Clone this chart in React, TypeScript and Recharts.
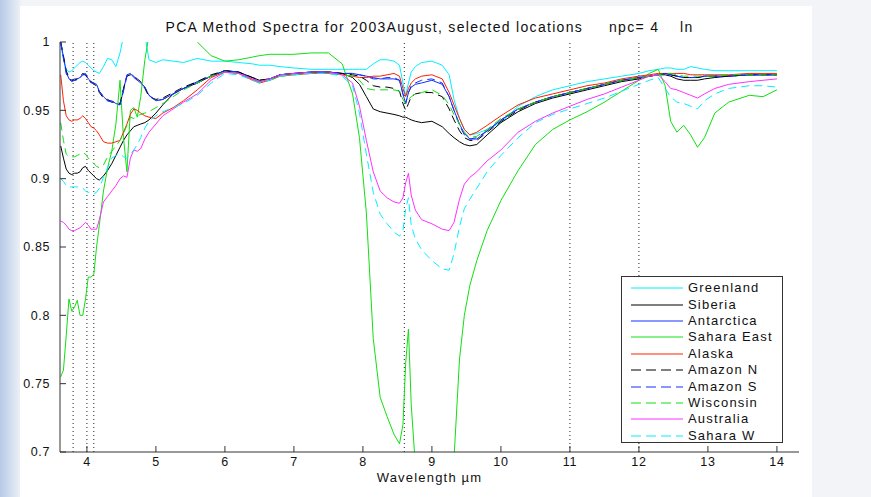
import { LineChart, Line, XAxis, YAxis, ReferenceLine, Legend } from 'recharts'

// wavelength grid (µm)
const wavelength = [
    3.62, 3.66, 3.70, 3.74, 3.78, 3.82, 3.86, 3.90, 3.94, 3.98,
    4.02, 4.06, 4.10, 4.14, 4.18, 4.24, 4.30, 4.36, 4.42, 4.48,
    4.53, 4.58, 4.63, 4.68, 4.73, 4.78, 4.84, 4.90, 5.00, 5.10,
    5.25, 5.40, 5.60, 5.80, 6.00, 6.20, 6.40, 6.50, 6.65, 6.80,
    7.00, 7.25, 7.50, 7.70, 7.85, 7.95, 8.05, 8.15, 8.25, 8.35,
    8.45, 8.53, 8.58, 8.62, 8.66, 8.70, 8.76, 8.85, 9.00, 9.15,
    9.25, 9.32, 9.40, 9.47, 9.55, 9.65, 9.80, 10.0, 10.25, 10.5,
    10.75, 11.0, 11.25, 11.5, 11.75, 12.0, 12.15, 12.28, 12.38, 12.46,
    12.55, 12.65, 12.75, 12.85, 12.95, 13.1, 13.3, 13.6, 13.8, 14.0,
]

const greenland = [
    0.998, 0.988, 0.980, 0.978, 0.979, 0.981, 0.983, 0.985, 0.986, 0.985,
    0.983, 0.981, 0.979, 0.978, 0.977, 0.982, 0.988, 0.987, 0.982, 0.992,
    1.004, 1.01, 1.01, 1.01, 1.01, 1.01, 1.005, 0.987, 0.985, 0.987,
    0.986, 0.985, 0.988, 0.986, 0.986, 0.985, 0.984, 0.983, 0.983, 0.982,
    0.981, 0.980, 0.980, 0.980, 0.980, 0.980, 0.980, 0.984, 0.987, 0.987,
    0.986, 0.983, 0.970, 0.961, 0.970, 0.978, 0.982, 0.985, 0.986, 0.983,
    0.976, 0.958, 0.944, 0.936, 0.932, 0.933, 0.936, 0.941, 0.953, 0.960,
    0.965, 0.968, 0.971, 0.973, 0.975, 0.977, 0.979, 0.980, 0.981, 0.981,
    0.980, 0.980, 0.982, 0.981, 0.980, 0.979, 0.979, 0.979, 0.979, 0.979,
]

const siberia = [
    0.924, 0.915, 0.907, 0.904, 0.903, 0.904, 0.904, 0.905, 0.908, 0.909,
    0.906, 0.904, 0.902, 0.900, 0.899, 0.902, 0.906, 0.911, 0.917, 0.923,
    0.928, 0.932, 0.935, 0.938, 0.939, 0.940, 0.941, 0.943, 0.948, 0.954,
    0.962, 0.966, 0.970, 0.975, 0.979, 0.978, 0.974, 0.972, 0.973, 0.976,
    0.977, 0.978, 0.978, 0.977, 0.974, 0.969, 0.960, 0.951, 0.949, 0.948,
    0.947, 0.946, 0.945, 0.945, 0.944, 0.943, 0.942, 0.941, 0.942, 0.938,
    0.933, 0.930, 0.927, 0.925, 0.924, 0.925, 0.932, 0.941, 0.949, 0.955,
    0.959, 0.962, 0.965, 0.968, 0.971, 0.973, 0.975, 0.976, 0.976, 0.975,
    0.973, 0.972, 0.972, 0.972, 0.973, 0.974, 0.975, 0.976, 0.976, 0.976,
]

const antarctica = [
    1.0, 0.989, 0.978, 0.973, 0.972, 0.973, 0.973, 0.974, 0.976, 0.977,
    0.973, 0.971, 0.970, 0.969, 0.964, 0.960, 0.957, 0.957, 0.955, 0.954,
    0.965, 0.976, 0.977, 0.974, 0.972, 0.970, 0.967, 0.961, 0.957, 0.958,
    0.962, 0.966, 0.971, 0.975, 0.979, 0.978, 0.973, 0.971, 0.973, 0.976,
    0.977, 0.978, 0.978, 0.977, 0.977, 0.976, 0.975, 0.974, 0.973, 0.973,
    0.973, 0.972, 0.962, 0.955, 0.963, 0.967, 0.969, 0.970, 0.972, 0.969,
    0.960, 0.950, 0.940, 0.933, 0.929, 0.929, 0.935, 0.943, 0.951, 0.956,
    0.960, 0.963, 0.966, 0.969, 0.972, 0.974, 0.975, 0.976, 0.977, 0.976,
    0.975, 0.974, 0.974, 0.974, 0.975, 0.975, 0.975, 0.976, 0.976, 0.976,
]

const saharaEast = [
    0.755, 0.760, 0.785, 0.812, 0.803, 0.806, 0.811, 0.800, 0.800, 0.812,
    0.828, 0.828, 0.830, 0.850, 0.866, 0.891, 0.908, 0.920, 0.940, 0.972,
    0.930, 0.905, 0.950, 0.952, 0.945, 0.960, 0.987, 1.005, 1.02, 1.02,
    1.02, 1.02, 1.0, 0.990, 0.986, 0.987, 0.989, 0.990, 0.991, 0.991,
    0.991, 0.992, 0.992, 0.984, 0.962, 0.930, 0.875, 0.783, 0.740, 0.726,
    0.713, 0.706, 0.720, 0.765, 0.790, 0.735, 0.690, 0.650, 0.620, 0.620,
    0.650, 0.695, 0.768, 0.800, 0.822, 0.840, 0.862, 0.884, 0.906, 0.925,
    0.936, 0.943, 0.949, 0.956, 0.964, 0.972, 0.977, 0.980, 0.968, 0.942,
    0.934, 0.939, 0.932, 0.923, 0.930, 0.948, 0.956, 0.961, 0.960, 0.965,
]

const alaska = [
    0.976, 0.957, 0.946, 0.943, 0.942, 0.943, 0.943, 0.944, 0.946, 0.944,
    0.941, 0.938, 0.937, 0.935, 0.932, 0.927, 0.926, 0.926, 0.927, 0.928,
    0.934, 0.940, 0.947, 0.951, 0.950, 0.948, 0.946, 0.945, 0.944, 0.948,
    0.952, 0.957, 0.965, 0.974, 0.978, 0.977, 0.972, 0.970, 0.972, 0.975,
    0.976, 0.977, 0.977, 0.976, 0.975, 0.974, 0.974, 0.975, 0.975, 0.976,
    0.977, 0.975, 0.966, 0.960, 0.966, 0.970, 0.973, 0.975, 0.976, 0.973,
    0.963, 0.954, 0.944, 0.936, 0.932, 0.934, 0.939, 0.946, 0.954, 0.959,
    0.962, 0.965, 0.968, 0.970, 0.973, 0.975, 0.976, 0.977, 0.977, 0.977,
    0.977, 0.977, 0.976, 0.976, 0.976, 0.976, 0.976, 0.977, 0.977, 0.977,
]

const amazonN = [
    1.0, 0.990, 0.979, 0.974, 0.972, 0.972, 0.973, 0.975, 0.977, 0.976,
    0.972, 0.971, 0.969, 0.968, 0.963, 0.959, 0.958, 0.956, 0.956, 0.955,
    0.966, 0.975, 0.976, 0.975, 0.973, 0.971, 0.966, 0.960, 0.958, 0.959,
    0.963, 0.967, 0.971, 0.976, 0.979, 0.978, 0.974, 0.972, 0.973, 0.976,
    0.977, 0.978, 0.978, 0.977, 0.976, 0.975, 0.972, 0.968, 0.967, 0.967,
    0.966, 0.964, 0.955, 0.950, 0.955, 0.960, 0.962, 0.963, 0.963, 0.960,
    0.951, 0.943, 0.935, 0.930, 0.928, 0.928, 0.934, 0.942, 0.950, 0.956,
    0.960, 0.963, 0.966, 0.969, 0.972, 0.974, 0.975, 0.976, 0.977, 0.976,
    0.975, 0.974, 0.974, 0.974, 0.975, 0.975, 0.975, 0.976, 0.976, 0.976,
]

const amazonS = [
    1.0, 0.988, 0.977, 0.973, 0.971, 0.972, 0.972, 0.974, 0.976, 0.976,
    0.973, 0.970, 0.970, 0.968, 0.964, 0.960, 0.957, 0.956, 0.955, 0.954,
    0.964, 0.975, 0.977, 0.975, 0.972, 0.970, 0.967, 0.961, 0.957, 0.958,
    0.962, 0.966, 0.970, 0.975, 0.979, 0.978, 0.973, 0.971, 0.973, 0.976,
    0.977, 0.978, 0.978, 0.977, 0.977, 0.976, 0.975, 0.973, 0.973, 0.974,
    0.974, 0.972, 0.962, 0.955, 0.963, 0.968, 0.970, 0.972, 0.973, 0.970,
    0.960, 0.950, 0.939, 0.932, 0.929, 0.930, 0.935, 0.943, 0.951, 0.956,
    0.960, 0.963, 0.966, 0.969, 0.972, 0.974, 0.975, 0.976, 0.977, 0.976,
    0.975, 0.974, 0.974, 0.974, 0.975, 0.975, 0.975, 0.976, 0.976, 0.976,
]

const wisconsin = [
    0.941, 0.928, 0.918, 0.916, 0.916, 0.916, 0.917, 0.918, 0.919, 0.918,
    0.915, 0.913, 0.911, 0.909, 0.908, 0.910, 0.916, 0.920, 0.924, 0.928,
    0.933, 0.939, 0.945, 0.944, 0.946, 0.947, 0.948, 0.949, 0.952, 0.955,
    0.960, 0.965, 0.970, 0.975, 0.978, 0.977, 0.973, 0.971, 0.972, 0.975,
    0.976, 0.977, 0.977, 0.976, 0.975, 0.972, 0.966, 0.965, 0.965, 0.965,
    0.965, 0.964, 0.958, 0.955, 0.958, 0.960, 0.962, 0.963, 0.965, 0.961,
    0.954, 0.947, 0.940, 0.934, 0.930, 0.931, 0.936, 0.944, 0.951, 0.956,
    0.960, 0.963, 0.966, 0.969, 0.972, 0.974, 0.975, 0.976, 0.977, 0.977,
    0.976, 0.975, 0.975, 0.975, 0.975, 0.975, 0.976, 0.976, 0.976, 0.976,
]

const australia = [
    0.869, 0.868, 0.866, 0.863, 0.862, 0.862, 0.863, 0.864, 0.866, 0.868,
    0.866, 0.863, 0.863, 0.863, 0.870, 0.883, 0.887, 0.891, 0.895, 0.900,
    0.902, 0.901, 0.915, 0.921, 0.920, 0.922, 0.929, 0.934, 0.940, 0.946,
    0.951, 0.956, 0.962, 0.972, 0.978, 0.977, 0.973, 0.971, 0.973, 0.976,
    0.977, 0.978, 0.978, 0.976, 0.970, 0.953, 0.928, 0.905, 0.891, 0.886,
    0.883, 0.882, 0.886, 0.897, 0.904, 0.888, 0.877, 0.870, 0.867, 0.863,
    0.862, 0.868, 0.885, 0.896, 0.901, 0.905, 0.913, 0.921, 0.934, 0.942,
    0.948, 0.953, 0.958, 0.962, 0.967, 0.972, 0.975, 0.976, 0.971, 0.966,
    0.965, 0.963, 0.961, 0.959, 0.962, 0.966, 0.969, 0.971, 0.972, 0.973,
]

const saharaW = [
    0.900, 0.898, 0.895, 0.894, 0.894, 0.894, 0.894, 0.894, 0.893, 0.891,
    0.890, 0.890, 0.889, 0.890, 0.893, 0.901, 0.908, 0.915, 0.917, 0.918,
    0.916, 0.915, 0.918, 0.921, 0.925, 0.930, 0.937, 0.942, 0.946, 0.949,
    0.952, 0.955, 0.961, 0.970, 0.977, 0.976, 0.972, 0.970, 0.972, 0.975,
    0.976, 0.977, 0.977, 0.975, 0.968, 0.948, 0.918, 0.890, 0.874, 0.867,
    0.861, 0.858, 0.862, 0.878, 0.886, 0.866, 0.856, 0.848, 0.840, 0.834,
    0.833, 0.845, 0.865, 0.878, 0.885, 0.893, 0.905, 0.917, 0.930, 0.941,
    0.947, 0.951, 0.955, 0.959, 0.964, 0.969, 0.972, 0.974, 0.966, 0.960,
    0.956, 0.955, 0.953, 0.951, 0.957, 0.962, 0.966, 0.968, 0.968, 0.967,
]

const xTicks = [4, 5, 6, 7, 8, 9, 10, 11, 12, 13, 14]
const yTicks = [0.7, 0.75, 0.8, 0.85, 0.9, 0.95, 1]
const markerLines = [3.8, 4.0, 4.1, 8.6, 11.0, 12.0]

const series = [
    { name: 'Greenland', values: greenland, color: '#00f0ff', dashed: false },
    { name: 'Siberia', values: siberia, color: '#000000', dashed: false },
    { name: 'Antarctica', values: antarctica, color: '#1030ff', dashed: false },
    { name: 'Sahara East', values: saharaEast, color: '#10e010', dashed: false },
    { name: 'Alaska', values: alaska, color: '#ff2000', dashed: false },
    { name: 'Amazon N', values: amazonN, color: '#000000', dashed: true },
    { name: 'Amazon S', values: amazonS, color: '#1030ff', dashed: true },
    { name: 'Wisconsin', values: wisconsin, color: '#10e010', dashed: true },
    { name: 'Australia', values: australia, color: '#ff30ff', dashed: false },
    { name: 'Sahara W', values: saharaW, color: '#00f0ff', dashed: true },
]

const chartData = wavelength.map((w, i) => {
    const row: Record<string, number> = { w }
    series.forEach((s) => {
        row[s.name] = s.values[i]
    })
    return row
})

const FONT = '"Liberation Sans", Arial, Helvetica, sans-serif'
const AXIS = '#333'

// MATLAB-like boxed legend
const BoxLegend = () => (
    <div
        style={{
            width: 162,
            height: 167,
            border: '1px solid #333',
            background: '#fff',
            fontFamily: FONT,
            fontSize: 13,
            letterSpacing: 1.2,
            color: '#111',
            paddingTop: 3,
            boxSizing: 'border-box',
        }}
    >
        {series.map((s) => (
            <div key={s.name} style={{ display: 'flex', alignItems: 'center', height: 16.4 }}>
                <svg width={66} height={10} style={{ flex: 'none' }}>
                    <line
                        x1={9}
                        x2={61}
                        y1={5}
                        y2={5}
                        stroke={s.color}
                        strokeWidth={1}
                        strokeDasharray={s.dashed ? '10 5' : undefined}
                    />
                </svg>
                <span style={{ whiteSpace: 'nowrap', lineHeight: '16px' }}>{s.name}</span>
            </div>
        ))}
    </div>
)

export default function App() {
    return (
        <div
            style={{
                position: 'fixed',
                left: 0,
                top: 0,
                width: 871,
                height: 497,
                background: 'linear-gradient(to right, #b8c9e6 0px, #dbe4f2 14px, #f3f4f7 22px, #f3f4f7 100%)',
                overflow: 'hidden',
            }}
        >
            <div style={{ position: 'absolute', left: 20, top: 6, width: 792, height: 491, background: '#fff' }} />
            <div
                style={{
                    position: 'absolute',
                    left: 60,
                    top: 19,
                    width: 739,
                    textAlign: 'center',
                    fontFamily: FONT,
                    fontSize: 14,
                    letterSpacing: 1.3,
                    color: '#111',
                    whiteSpace: 'pre',
                }}
            >
                {'PCA Method Spectra for 2003August, selected locations     npc= 4    ln'}
            </div>
            <div style={{ position: 'absolute', left: 0, top: 0 }}>
                <LineChart
                    width={871}
                    height={497}
                    data={chartData}
                    margin={{ top: 42, right: 72, bottom: 15, left: 20 }}
                >
                    <XAxis
                        dataKey="w"
                        type="number"
                        domain={[3.61, 14.32]}
                        allowDataOverflow
                        ticks={xTicks}
                        height={30}
                        stroke={AXIS}
                        tickSize={-6}
                        tickMargin={11}
                        tick={{ fill: '#111', fontSize: 12.5, fontFamily: FONT, letterSpacing: 0.6 }}
                        label={{
                            value: 'Wavelength µm',
                            position: 'insideBottom',
                            offset: 0,
                            fill: '#111',
                            fontSize: 13,
                            fontFamily: FONT,
                            letterSpacing: 1.2,
                        }}
                    />
                    <XAxis
                        xAxisId="top"
                        orientation="top"
                        dataKey="w"
                        type="number"
                        domain={[3.61, 14.32]}
                        allowDataOverflow
                        ticks={xTicks}
                        height={0}
                        stroke={AXIS}
                        tickSize={-6}
                        tickFormatter={() => ''}
                    />
                    <YAxis
                        type="number"
                        domain={[0.7, 1]}
                        allowDataOverflow
                        ticks={yTicks}
                        width={40}
                        stroke={AXIS}
                        tickSize={-6}
                        tickMargin={16}
                        tick={{ fill: '#111', fontSize: 12.5, fontFamily: FONT, letterSpacing: 0.6 }}
                    />
                    <YAxis
                        yAxisId="right"
                        orientation="right"
                        type="number"
                        domain={[0.7, 1]}
                        allowDataOverflow
                        ticks={yTicks}
                        width={0}
                        stroke={AXIS}
                        axisLine={false}
                        tickSize={-6}
                        tickFormatter={() => ''}
                    />
                    {markerLines.map((x) => (
                        <ReferenceLine key={x} x={x} stroke="#222" strokeWidth={1} strokeDasharray="1 3" />
                    ))}
                    {series.map((s) => (
                        <Line
                            key={s.name}
                            dataKey={s.name}
                            type="linear"
                            stroke={s.color}
                            strokeWidth={1}
                            strokeDasharray={s.dashed ? '8 5' : undefined}
                            dot={false}
                            activeDot={false}
                            isAnimationActive={false}
                        />
                    ))}
                    <Legend
                        layout="vertical"
                        align="center"
                        verticalAlign="middle"
                        content={<BoxLegend />}
                        wrapperStyle={{ left: 621, top: 276, width: 162, height: 167 }}
                    />
                </LineChart>
            </div>
        </div>
    )
}
